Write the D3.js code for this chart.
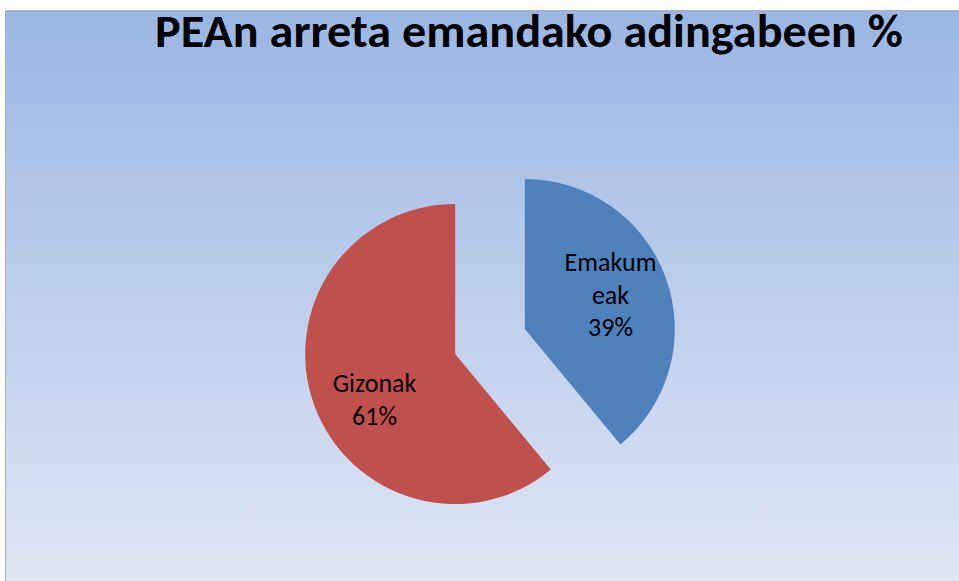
<!DOCTYPE html>
<html>
<head>
<meta charset="utf-8">
<script src="https://cdn.jsdelivr.net/npm/d3@7"></script>
<style>
  body { margin: 0; background: #fff; }
  svg { display: block; }
</style>
</head>
<body>
<svg id="chart" width="959" height="581"></svg>
<script>
const categories = ["Emakumeak", "Gizonak"];
const values = [39, 61];
const labelLines = [["Emakum", "eak", "39%"], ["Gizonak", "61%"]];
const colors = ["#4f81bd", "#c0504d"];
const title = "PEAn arreta emandako adingabeen %";

const svg = d3.select("#chart");

// background gradient
const defs = svg.append("defs");
const grad = defs.append("linearGradient")
    .attr("id", "bg")
    .attr("x1", 0).attr("y1", 0)
    .attr("x2", 0).attr("y2", 1);
grad.append("stop").attr("offset", "0%").attr("stop-color", "#9ab6e4");
grad.append("stop").attr("offset", "100%").attr("stop-color", "#e0e7f5");

svg.append("rect")
    .attr("x", 5.5)
    .attr("y", 10.5)
    .attr("width", 960)
    .attr("height", 580)
    .attr("fill", "url(#bg)")
    .attr("stroke", "#b0b0b0")
    .attr("stroke-width", 1);

svg.append("text")
    .attr("x", 155)
    .attr("y", 47)
    .attr("textLength", 748)
    .attr("lengthAdjust", "spacingAndGlyphs")
    .style("font-family", "Carlito, 'Liberation Sans', sans-serif")
    .style("font-weight", "bold")
    .style("font-size", "47px")
    .attr("fill", "#000")
    .text(title);

const cx = 490, cy = 341.5, radius = 150, explode = 37;

const pie = d3.pie()
    .sort(null)
    .value(d => d);

const arc = d3.arc()
    .innerRadius(0)
    .outerRadius(radius);

const arcs = pie(values);

const g = svg.append("g")
    .attr("transform", `translate(${cx},${cy})`);

const slices = g.selectAll(".slice")
    .data(arcs)
    .enter()
    .append("g")
    .attr("class", "slice")
    .attr("transform", d => {
        const mid = (d.startAngle + d.endAngle) / 2;
        return `translate(${Math.sin(mid) * explode},${-Math.cos(mid) * explode})`;
    });

slices.append("path")
    .attr("d", arc)
    .attr("fill", (d, i) => colors[i]);

const labelArc = d3.arc()
    .innerRadius(radius * 0.6)
    .outerRadius(radius * 0.6);

// small nudges so labels sit where Excel puts them
const nudge = [[1, -4], [4, 15]];

slices.append("text")
    .attr("transform", (d, i) => {
        const c = labelArc.centroid(d);
        return `translate(${c[0] + nudge[i][0]},${c[1] + nudge[i][1]})`;
    })
    .attr("text-anchor", "middle")
    .style("font-family", "Carlito, 'Open Sans', sans-serif")
    .style("font-size", "26px")
    .attr("fill", "#000")
    .each(function(d, i) {
        const lines = labelLines[i];
        const lh = 32.5;
        const start = -(lines.length - 1) * lh / 2;
        d3.select(this).selectAll("tspan")
            .data(lines)
            .enter()
            .append("tspan")
            .attr("x", 0)
            .attr("y", (t, j) => start + j * lh)
            .attr("dy", "0.35em")
            .text(t => t);
    });
</script>
</body>
</html>
